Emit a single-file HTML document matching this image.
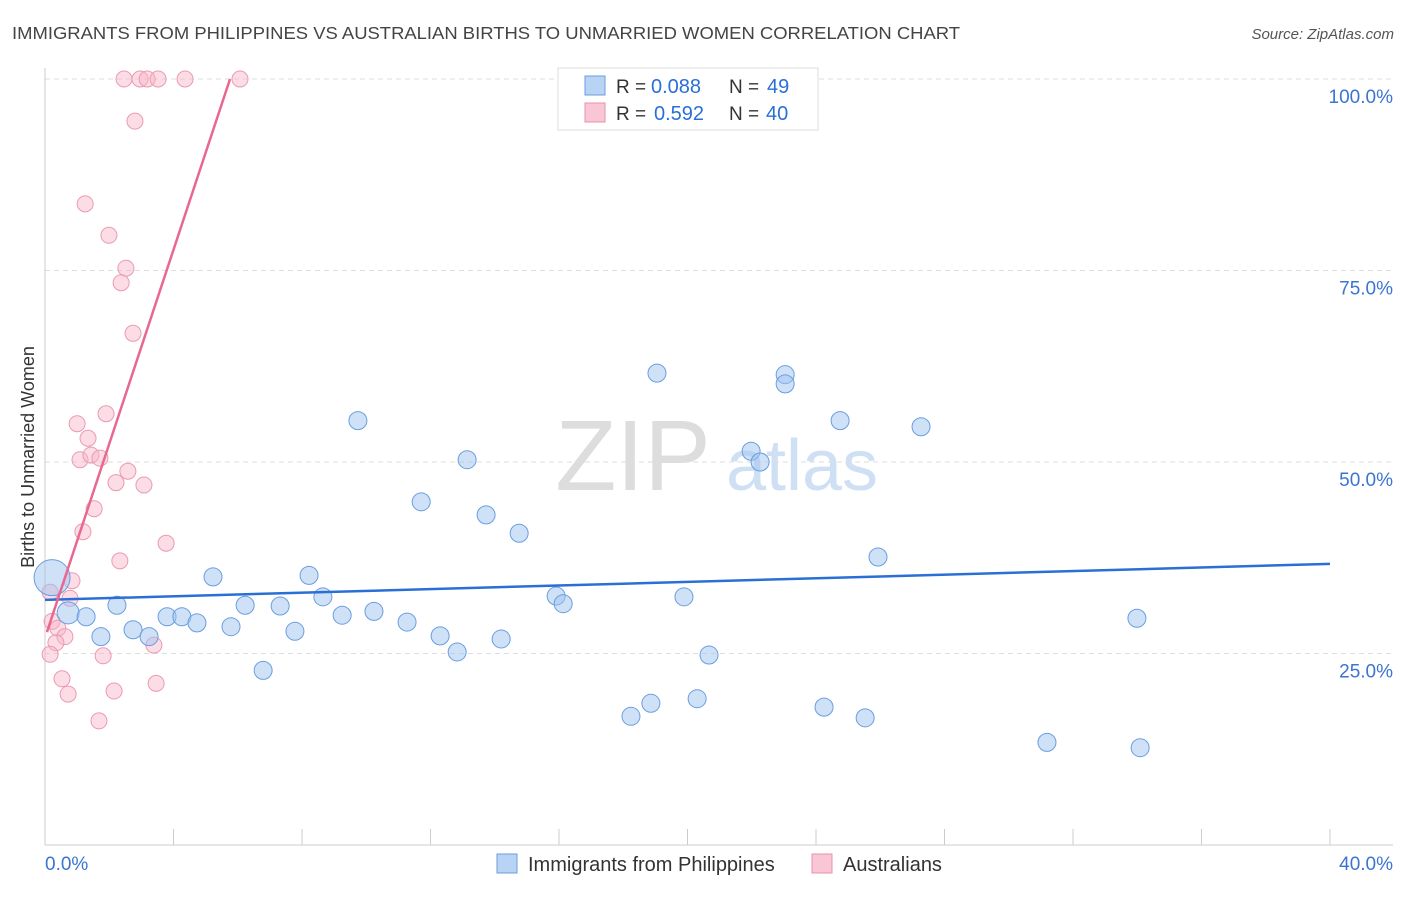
<!DOCTYPE html>
<html><head><meta charset="utf-8">
<style>
body{margin:0;background:#fff;font-family:"Liberation Sans",sans-serif;}
svg text{font-family:"Liberation Sans",sans-serif;}
</style></head>
<body>
<svg id="chart" width="1406" height="892" viewBox="0 0 1406 892" xmlns="http://www.w3.org/2000/svg">
<text x="12" y="39" font-size="17.5" fill="#444" textLength="948" lengthAdjust="spacingAndGlyphs">IMMIGRANTS FROM PHILIPPINES VS AUSTRALIAN BIRTHS TO UNMARRIED WOMEN CORRELATION CHART</text>
<text x="1394" y="39" font-size="15" fill="#555" text-anchor="end" font-style="italic">Source: ZipAtlas.com</text>
<g>
<text x="633" y="490" font-size="100" fill="#ddd" text-anchor="middle" font-family="Liberation Serif, serif">ZIP</text>
<text x="802" y="490" font-size="72" fill="#cfe0f5" text-anchor="middle">atlas</text>
</g>
<g id="grid"></g>
<g id="axes"></g>
<g id="marks"></g>
<text transform="translate(34,457) rotate(-90)" font-size="18" fill="#333" text-anchor="middle">Births to Unmarried Women</text>
<g>
<rect x="558" y="68" width="260" height="62" fill="#fff" stroke="#ddd"/>
<rect x="585" y="76" width="20" height="19" fill="#b9d3f5" stroke="#6a9ee0"/>
<rect x="585" y="103" width="20" height="19" fill="#f9c6d5" stroke="#e890aa"/>
<text x="616" y="93" font-size="19" fill="#333">R =</text>
<text x="651" y="93" font-size="20" fill="#2a6fd6">0.088</text>
<text x="729" y="93" font-size="19" fill="#333">N =</text>
<text x="767" y="93" font-size="20" fill="#2a6fd6">49</text>
<text x="616" y="120" font-size="19" fill="#333">R =</text>
<text x="654" y="120" font-size="20" fill="#2a6fd6">0.592</text>
<text x="729" y="120" font-size="19" fill="#333">N =</text>
<text x="766" y="120" font-size="20" fill="#2a6fd6">40</text>
</g>
<g>
<rect x="497" y="854" width="20" height="19" fill="#b9d3f5" stroke="#6a9ee0"/>
<text x="528" y="871" font-size="20" fill="#333">Immigrants from Philippines</text>
<rect x="812" y="854" width="20" height="19" fill="#f9c6d5" stroke="#e890aa"/>
<text x="843" y="871" font-size="20" fill="#333">Australians</text>
</g>
</svg>
<script>
const blueX=[0.22,0.72,1.28,1.74,2.24,2.74,3.24,3.80,4.26,4.73,5.23,5.79,6.23,6.79,7.32,7.78,8.22,8.65,9.25,9.74,10.24,11.27,11.71,12.30,12.83,13.14,13.73,14.20,14.76,15.91,16.13,18.24,18.86,19.05,19.89,20.30,20.67,21.98,22.26,23.04,23.04,24.25,24.75,25.53,25.93,27.27,31.19,33.99,34.09];
const blueY=[34.9,30.3,29.8,27.2,31.3,28.1,27.2,29.8,29.8,29.0,35.0,28.5,31.3,22.8,31.2,27.9,35.2,32.4,30.0,55.4,30.5,29.1,44.8,27.3,25.2,50.3,43.1,26.9,40.7,32.5,31.5,16.8,18.5,61.6,32.4,19.1,24.8,51.4,50.0,61.4,60.2,18.0,55.4,16.6,37.6,54.6,13.4,29.6,12.7];
const pinkX=[2.46,2.96,3.18,3.52,4.36,6.07,2.80,1.25,1.99,2.52,2.37,2.74,1.90,1.00,1.34,1.09,1.43,1.71,2.58,2.21,3.08,1.53,1.18,3.77,2.33,0.84,0.16,0.78,0.22,0.40,0.62,0.34,0.16,1.81,0.53,3.46,0.72,2.15,1.68,3.39];
const pinkY=[100,100,100,100,100,100,94.5,83.7,79.6,75.3,73.4,66.8,56.3,55.0,53.1,50.3,50.9,50.5,48.8,47.3,47.0,43.9,40.9,39.4,37.1,34.5,33.0,32.2,29.2,28.3,27.2,26.4,24.9,24.7,21.7,21.1,19.7,20.1,16.2,26.1];
const blueTrend=[[0,32.0],[40,36.7]];
const pinkTrend=[[0.06,27.8],[5.76,100]];
const yTicks=[25,50,75,100];
const xTicks=[0,4,8,12,16,20,24,28,32,36,40];
const NS="http://www.w3.org/2000/svg";
const sx=v=>45+v/40*1285;
const sy=v=>845-v/100*766;
function mk(tag,attrs,parent){const e=document.createElementNS(NS,tag);for(const k in attrs)e.setAttribute(k,attrs[k]);document.getElementById(parent).appendChild(e);return e;}
yTicks.forEach(t=>{
 const l=mk('line',{x1:45,x2:1393,y1:sy(t),y2:sy(t),stroke:'#ddd','stroke-dasharray':'5,4'},'grid');
 
 
 const tx=mk('text',{x:1393,y:sy(t)+24,'font-size':19,fill:'#3b74d1','text-anchor':'end'},'axes');
 tx.textContent=t.toFixed(1)+'%';
 
 
});
const ax=mk('line',{x1:45,x2:1393,y1:845,y2:845,stroke:'#ccc'},'axes');


const ay=mk('line',{x1:45,x2:45,y1:68,y2:845,stroke:'#ccc'},'axes');


xTicks.forEach(t=>{
 const l=mk('line',{x1:sx(t),x2:sx(t),y1:829,y2:845,stroke:'#ccc'},'axes');
 
 
});
[[0,'start'],[40,'end']].forEach(([t,a])=>{
 const tx=mk('text',{x:t===0?45:1393,y:870,'font-size':19,fill:'#3b74d1','text-anchor':a},'axes');
 tx.textContent=t.toFixed(1)+'%';
 
 
});
pinkX.forEach((x,i)=>{
 const c=mk('circle',{cx:sx(x),cy:sy(pinkY[i]),r:8,fill:'rgba(248,180,200,0.45)',stroke:'#eb9ab3','stroke-width':1},'marks');
 
 
});
blueX.forEach((x,i)=>{
 const c=mk('circle',{cx:sx(x),cy:sy(blueY[i]),r:i===0?18:(i===1?11:9),fill:'rgba(160,196,240,0.5)',stroke:'#6a9ee0','stroke-width':1},'marks');
 
 
});
const bt=mk('line',{x1:sx(blueTrend[0][0]),y1:sy(blueTrend[0][1]),x2:sx(blueTrend[1][0]),y2:sy(blueTrend[1][1]),stroke:'#2a6fd6','stroke-width':2.5},'marks');


const pt=mk('line',{x1:sx(pinkTrend[0][0]),y1:sy(pinkTrend[0][1]),x2:sx(pinkTrend[1][0]),y2:sy(pinkTrend[1][1]),stroke:'#e8688f','stroke-width':2.5},'marks');


</script>
</body></html>
